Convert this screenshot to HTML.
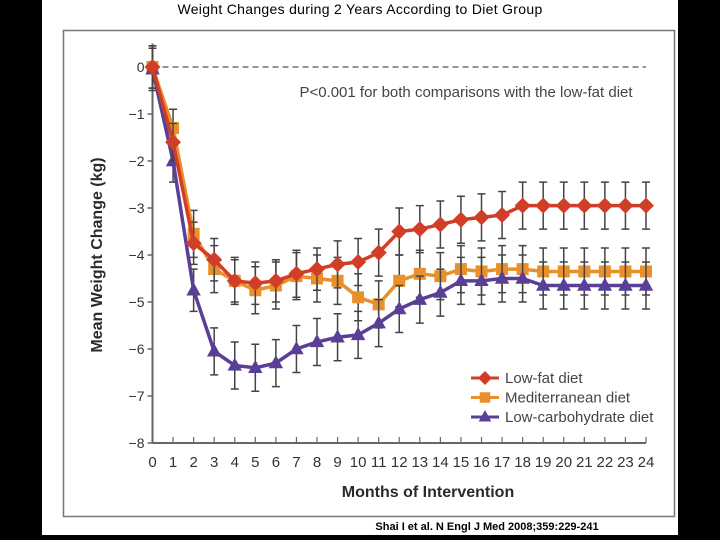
<!DOCTYPE html>
<html><head><meta charset="utf-8"><style>
html,body{margin:0;padding:0;background:#000;}
svg{display:block;}
text{font-family:"Liberation Sans Narrow","Liberation Sans",sans-serif;}
</style></head><body>
<svg id="chart" width="720" height="540" viewBox="0 0 720 540">
<rect x="0" y="0" width="720" height="540" fill="#000"/>
<rect x="42" y="0" width="636" height="535" fill="#fff"/>
<text x="360" y="14" text-anchor="middle" font-size="14" font-family="Liberation Sans" fill="#000" letter-spacing="0.3">Weight Changes during 2 Years According to Diet Group</text>
<rect x="63.5" y="30.5" width="611" height="486" fill="#fff" stroke="#777" stroke-width="1.5"/>
<text x="487" y="530" text-anchor="middle" font-size="11" font-weight="bold" fill="#000">Shai I et al. N Engl J Med 2008;359:229-241</text>
<text x="0" y="0" transform="translate(102,255) rotate(-90)" text-anchor="middle" font-size="16" font-family="Liberation Sans" font-weight="bold" fill="#2a2a2a">Mean Weight Change (kg)</text>
<text x="428" y="497" text-anchor="middle" font-size="16" font-weight="bold" fill="#2a2a2a">Months of Intervention</text>
<text x="466" y="97" text-anchor="middle" font-size="15" fill="#444">P&lt;0.001 for both comparisons with the low-fat diet</text>
<g id="axes"></g>
<g id="series"></g>
<g id="legend"></g>
</svg>
<script>
const months = [0,1,2,3,4,5,6,7,8,9,10,11,12,13,14,15,16,17,18,19,20,21,22,23,24];
const lowFat = [0,-1.6,-3.75,-4.1,-4.55,-4.6,-4.55,-4.4,-4.3,-4.2,-4.15,-3.95,-3.5,-3.45,-3.35,-3.25,-3.2,-3.15,-2.95,-2.95,-2.95,-2.95,-2.95,-2.95,-2.95];
const mediterranean = [0,-1.3,-3.55,-4.3,-4.55,-4.75,-4.65,-4.45,-4.5,-4.55,-4.9,-5.05,-4.55,-4.4,-4.45,-4.3,-4.35,-4.3,-4.3,-4.35,-4.35,-4.35,-4.35,-4.35,-4.35];
const lowCarb = [-0.05,-2.0,-4.75,-6.05,-6.35,-6.4,-6.3,-6.0,-5.85,-5.75,-5.7,-5.45,-5.15,-4.95,-4.8,-4.55,-4.55,-4.5,-4.5,-4.65,-4.65,-4.65,-4.65,-4.65,-4.65];
const errLowFat = [0.45,0.4,0.45,0.45,0.45,0.45,0.45,0.5,0.45,0.5,0.5,0.5,0.5,0.5,0.5,0.5,0.5,0.5,0.5,0.5,0.5,0.5,0.5,0.5,0.5];
const errMed = [0.45,0.4,0.5,0.5,0.5,0.5,0.5,0.5,0.5,0.5,0.5,0.5,0.55,0.5,0.5,0.5,0.5,0.5,0.5,0.5,0.5,0.5,0.5,0.5,0.5];
const errLowCarb = [0.45,0.45,0.45,0.5,0.5,0.5,0.5,0.5,0.5,0.5,0.5,0.5,0.5,0.5,0.5,0.5,0.5,0.5,0.5,0.5,0.5,0.5,0.5,0.5,0.5];
const yTicks = [0,-1,-2,-3,-4,-5,-6,-7,-8];
const yTickLabels = ["0","\u22121","\u22122","\u22123","\u22124","\u22125","\u22126","\u22127","\u22128"];
const seriesNames = ["Low-fat diet","Mediterranean diet","Low-carbohydrate diet"];

const NS="http://www.w3.org/2000/svg";
const x0=152.5,x1=646,y0=67,y8=443;
const xs=m=>x0+(m-0)*(x1-x0)/24;
const ys=v=>y0+(0-v)*(y8-y0)/8;
function mk(tag,attrs,parent){const e=document.createElementNS(NS,tag);for(const k in attrs)e.setAttribute(k,attrs[k]);parent.appendChild(e);return e;}
const axes=document.getElementById('axes');
const yAxis=mk('line',{x1:x0,y1:ys(0.5),x2:x0,y2:ys(-8),stroke:'#666','stroke-width':2},axes);


const xAxis=mk('line',{x1:x0,y1:ys(-8),x2:xs(24),y2:ys(-8),stroke:'#666','stroke-width':2},axes);


const zl=mk('line',{x1:x0,y1:ys(0),x2:xs(24),y2:ys(0),stroke:'#555','stroke-width':1.2,'stroke-dasharray':'6,4'},axes);


yTicks.forEach((t,i)=>{
  const tk=mk('line',{x1:x0-5,y1:ys(t),x2:x0,y2:ys(t),stroke:'#666','stroke-width':1.5},axes);
  
  
  const tl=mk('text',{x:x0-8,y:ys(t)+5,'text-anchor':'end','font-size':14,fill:'#333'},axes);
  tl.textContent=yTickLabels[i];
  
  
});
months.forEach(m=>{
  const tk=mk('line',{x1:xs(m),y1:ys(-8),x2:xs(m),y2:ys(-8)-6,stroke:'#666','stroke-width':1.2},axes);
  
  
  const tl=mk('text',{x:xs(m),y:ys(-8)+24,'text-anchor':'middle','font-size':15,fill:'#333'},axes);
  tl.textContent=String(m);
  
  
});
function marker(type,cx,cy,color,parent,s){
  let e;
  if(type==='diamond') e=mk('polygon',{points:`${cx},${cy-s} ${cx+s},${cy} ${cx},${cy+s} ${cx-s},${cy}`,fill:color},parent);
  else if(type==='square') e=mk('rect',{x:cx-s*0.75,y:cy-s*0.75,width:s*1.5,height:s*1.5,fill:color},parent);
  else e=mk('polygon',{points:`${cx},${cy-s} ${cx+s*0.9},${cy+s*0.65} ${cx-s*0.9},${cy+s*0.65}`,fill:color},parent);
  return e;
}
const series=document.getElementById('series');
const defs=[
  {vals:mediterranean,err:errMed,color:'#e8902c',type:'square',name:'mediterranean'},
  {vals:lowCarb,err:errLowCarb,color:'#5a3f96',type:'triangle',name:'low-carb'},
  {vals:lowFat,err:errLowFat,color:'#d03e28',type:'diamond',name:'low-fat'}
];
defs.forEach(d=>{
  const g=mk('g',{},series);
  
  
  d.vals.forEach((v,i)=>{
    const cx=xs(months[i]),top=ys(v+d.err[i]),bot=ys(v-d.err[i]);
    const eb=mk('path',{d:`M${cx},${top}V${bot}M${cx-4},${top}H${cx+4}M${cx-4},${bot}H${cx+4}`,stroke:'#444','stroke-width':1.5,fill:'none'},g);
    
    
  });
  const pts=d.vals.map((v,i)=>xs(months[i])+','+ys(v)).join(' ');
  const pl=mk('polyline',{points:pts,fill:'none',stroke:d.color,'stroke-width':3.5},g);
  
  
  d.vals.forEach((v,i)=>{
    const m=marker(d.type,xs(months[i]),ys(v),d.color,g,8);
    
    
  });
});
const legend=document.getElementById('legend');
const lg=[{c:'#d03e28',t:'diamond'},{c:'#e8902c',t:'square'},{c:'#5a3f96',t:'triangle'}];
lg.forEach((l,i)=>{
  const y=378+i*19.5;
  const ln=mk('line',{x1:471,y1:y,x2:499,y2:y,stroke:l.c,'stroke-width':3},legend);
  
  
  const mm=marker(l.t,485,y,l.c,legend,7);
  
  
  const tx=mk('text',{x:505,y:y+5,'font-size':15,fill:'#444'},legend);
  tx.textContent=seriesNames[i];
  
  
});
</script>
</body></html>
